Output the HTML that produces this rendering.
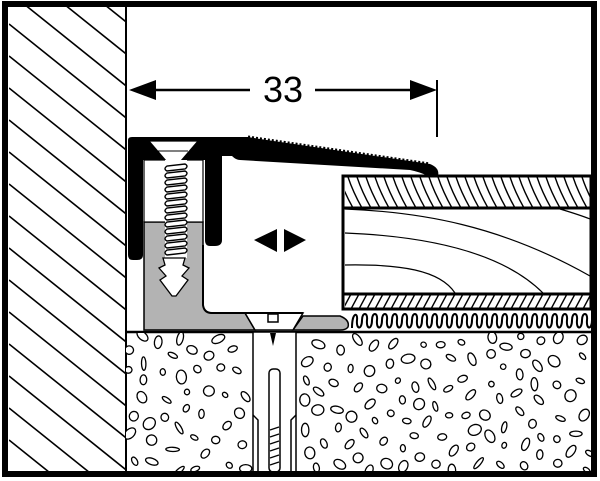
<!DOCTYPE html>
<html><head><meta charset="utf-8"><style>html,body{margin:0;padding:0;background:#fff;width:600px;height:481px;overflow:hidden}svg{display:block}</style></head>
<body>
<svg id="s" width="600" height="481" viewBox="0 0 600 481" xmlns="http://www.w3.org/2000/svg">
<defs>
<clipPath id="wall"><rect x="9" y="7" width="117" height="465"/></clipPath>
<clipPath id="tb"><rect x="345" y="177" width="246" height="31"/></clipPath>
<clipPath id="bb"><rect x="345" y="294" width="246" height="15"/></clipPath>
<clipPath id="con"><rect x="126" y="333" width="465" height="138"/></clipPath>
</defs>
<rect x="0" y="0" width="600" height="481" fill="#fff"/>
<g id="hatch" clip-path="url(#wall)" stroke="#000" stroke-width="1.6"></g>
<line x1="126" y1="7" x2="126" y2="472" stroke="#000" stroke-width="2"/>
<line x1="150" y1="90" x2="250" y2="90" stroke="#000" stroke-width="2.5"/>
<line x1="315" y1="90" x2="420" y2="90" stroke="#000" stroke-width="2.5"/>
<polygon points="129,90 156,80 156,100" fill="#000"/>
<polygon points="437,90 410,80 410,100" fill="#000"/>
<line x1="437" y1="80" x2="437" y2="137" stroke="#000" stroke-width="2"/>
<text x="283" y="102" font-family="Liberation Sans, sans-serif" font-size="36" text-anchor="middle">33</text>
<rect x="343" y="176" width="248" height="133" fill="#fff" stroke="#000" stroke-width="3"/>
<line x1="343" y1="208" x2="591" y2="208" stroke="#000" stroke-width="3"/>
<line x1="343" y1="294" x2="591" y2="294" stroke="#000" stroke-width="3"/>
<g id="tbh" clip-path="url(#tb)" stroke="#000" stroke-width="1.4" fill="none"></g>
<g id="bbh" clip-path="url(#bb)" stroke="#000" stroke-width="1.4"></g>
<g fill="none" stroke="#000" stroke-width="1.2">
<path d="M345,209 C420,212 500,225 590,276"/>
<path d="M345,233 C420,236 500,250 543,293"/>
<path d="M345,265 C400,264 440,270 455,293"/>
<path d="M560,209 C570,212 580,215 590,219"/>
</g>
<path id="wave" fill="none" stroke="#000" stroke-width="2"/>
<line x1="126" y1="332" x2="591" y2="332" stroke="#000" stroke-width="2.5"/>
<g id="peb" clip-path="url(#con)" fill="#fff" stroke="#000" stroke-width="1.3"></g>
<rect x="253" y="332" width="43" height="140" fill="#fff" stroke="#000" stroke-width="1.5"/>
<path d="M253,415 L258,420 L258,472 M296,415 L291,420 L291,472" fill="none" stroke="#000" stroke-width="1.5"/>
<rect x="269" y="369" width="11" height="103" rx="4" fill="#fff" stroke="#000" stroke-width="1.5"/>
<g stroke="#000" stroke-width="1.2"><line x1="270" y1="430" x2="279" y2="427"/><line x1="270" y1="437" x2="279" y2="434"/><line x1="270" y1="444" x2="279" y2="441"/><line x1="270" y1="451" x2="279" y2="448"/><line x1="270" y1="458" x2="279" y2="455"/><line x1="270" y1="465" x2="279" y2="462"/></g>
<polygon points="270,333 276,333 273,346" fill="#000"/>
<path d="M144,222 L203,222 L203,305 Q204,313 212,313 L245,313 L255,330 L144,330 Z" fill="#b3b3b3" stroke="#000" stroke-width="1.5"/>
<path d="M293,330 L303,316 L340,316 Q350,320 348,327 Q346,330 340,330 Z" fill="#b3b3b3" stroke="#000" stroke-width="1.5"/>
<path d="M245,313 L303,313 L293,330 L255,330 Z" fill="#fff" stroke="#000" stroke-width="1.5"/>
<rect x="268" y="314" width="10" height="8" fill="#fff" stroke="#000" stroke-width="1.5"/>
<path d="M203,245 L203,305 Q204,313 212,313 L303,313" fill="none" stroke="#000" stroke-width="2"/>
<rect x="144" y="160" width="59" height="62" fill="#fff" stroke="#000" stroke-width="1.2"/>
<path d="M128,140 Q128,137 132,137 L248,137 L260,139 L430,164 Q440,168 438,176 L428,176 Q420,172 410,170 L240,160 Q236,160 232,156 L222,156 L222,240 Q222,246 215,246 L210,246 Q205,246 205,240 L205,160 L143,160 L143,255 Q143,260 137,260 L133,260 Q128,260 128,255 Z" fill="#000"/>
<path d="M248,137 L430,164" stroke="#000" stroke-width="3" stroke-dasharray="2 2" fill="none"/>
<polygon points="149,141 198,141 180,162 167,162" fill="#fff" stroke="#000" stroke-width="1.2"/>
<line x1="158" y1="151" x2="188" y2="151" stroke="#000" stroke-width="1"/>
<rect x="165" y="160" width="22" height="98" fill="#fff"/>
<g id="thr" fill="#fff" stroke="#000" stroke-width="1.4"></g>
<path d="M163,258 L185,258 L183,265 L189,268 L182,276 L188,280 L176,296 L172,296 L160,280 L166,276 L159,268 L165,265 Z" fill="#fff" stroke="#000" stroke-width="1.3"/>
<polygon points="254,240 277,229 277,252" fill="#000"/>
<polygon points="306,240 284,229 284,252" fill="#000"/>
<rect x="5" y="4" width="589" height="470" fill="none" stroke="#000" stroke-width="6"/>
</svg>
<script>
var NS="http://www.w3.org/2000/svg";
function el(p,t,a){var e=document.createElementNS(NS,t);for(var k in a)e.setAttribute(k,a[k]);document.getElementById(p).appendChild(e);}
for(var y=-200;y<520;y+=32){el("hatch","line",{x1:9,y1:y,x2:130,y2:y+97});}
for(var x=330;x<600;x+=9){el("tbh","path",{d:"M"+x+",177 Q"+(x+5)+",192 "+(x+14)+",208"});}
for(var x=335;x<600;x+=8){el("bbh","line",{x1:x+8,y1:294,x2:x,y2:309});}
var d="M352,328";for(var x=352;x<585;x+=10){d+=" C"+(x)+",312 "+(x+6)+",312 "+(x+5)+",320 C"+(x+4)+",330 "+(x+10)+",330 "+(x+10)+",320";}
document.getElementById("wave").setAttribute("d",d);
for(var y=166;y<256;y+=7){el("thr","path",{d:"M167,"+y+" Q163,"+(y+3)+" 167,"+(y+5)+" L185,"+(y+3)+" Q189,"+(y)+" 185,"+(y-2)+" Z"});}
var s=12345;function r(){s=(s*16807)%2147483647;return s/2147483647;}
var pts=[];
for(var i=0;i<3000&&pts.length<230;i++){var x=128+r()*462,y=336+r()*136;if(x>246&&x<303)continue;var ok=true;for(var j=0;j<pts.length;j++){var dx=pts[j][0]-x,dy=pts[j][1]-y;if(dx*dx+dy*dy<256){ok=false;break;}}if(!ok)continue;pts.push([x,y]);
el("peb","ellipse",{cx:x.toFixed(1),cy:y.toFixed(1),rx:(2.5+r()*4.5).toFixed(1),ry:(2+r()*3.5).toFixed(1),transform:"rotate("+(r()*180|0)+" "+x.toFixed(1)+" "+y.toFixed(1)+")"});}
</script>
</body></html>
